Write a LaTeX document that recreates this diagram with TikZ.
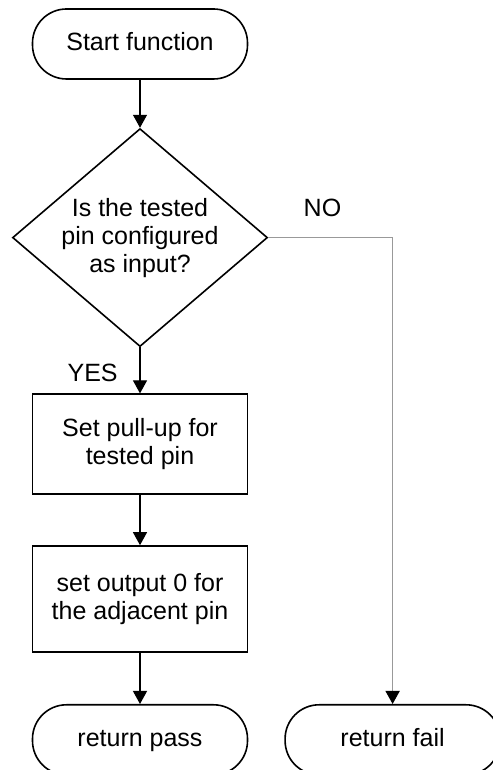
\documentclass[tikz,border=0pt]{standalone}
\usepackage{fontspec}
\setmainfont{Liberation Sans}
\usetikzlibrary{shapes.geometric, positioning, arrows.meta}

\begin{document}
\begin{tikzpicture}[
    font=\fontsize{12.5}{14}\selectfont,
    term/.style={rectangle, rounded corners=17pt, draw=black, fill=white, minimum width=107.5pt, minimum height=35pt, text height=9pt, text depth=2.5pt, line width=0.8pt},
    decision/.style={diamond, draw=black, aspect=1.17, inner sep=0pt, minimum width=127.5pt, minimum height=109pt, align=center, line width=0.8pt},
    proc/.style={rectangle, draw=black, minimum width=107.5pt, align=center, line width=0.9pt},
    arrow_style/.style={draw=black, line width=0.6pt, -{Triangle[width=7pt, length=6.5pt]}},
    no_style/.style={draw=black!40, line width=0.8pt, -{Triangle[width=7pt, length=6.5pt, color=black]}},
    lbl/.style={inner sep=0pt}
]

\useasboundingbox (0,0) rectangle (246pt,385pt);

% Main column
\node[term] (start) at (70pt,363pt) {Start function};
\node[decision, below=24pt of start] (test) {Is the tested\\pin configured\\as input?};
\node[proc, below=23pt of test, minimum height=50pt] (pullup) {Set pull-up for\\tested pin};
\node[proc, below=25pt of pullup, minimum height=53pt] (output) {set output 0 for\\the adjacent pin};
\node[term, below=25.5pt of output] (pass) {return pass};

% Fail branch
\node[term, right=18pt of pass] (fail) {return fail};

% Branch labels
\node[lbl, below left=8pt and 11pt of test.south] (yes) {YES};
\node[lbl, above right=10pt and 17.5pt of test.east] (no) {NO};

% Connectors
\draw[arrow_style] (start) -- (test);
\draw[arrow_style] (test) -- (pullup);
\draw[arrow_style] (pullup) -- (output);
\draw[arrow_style] (output) -- (pass);
\draw[no_style] (test.east) -| (fail.north);

\end{tikzpicture}
\end{document}
